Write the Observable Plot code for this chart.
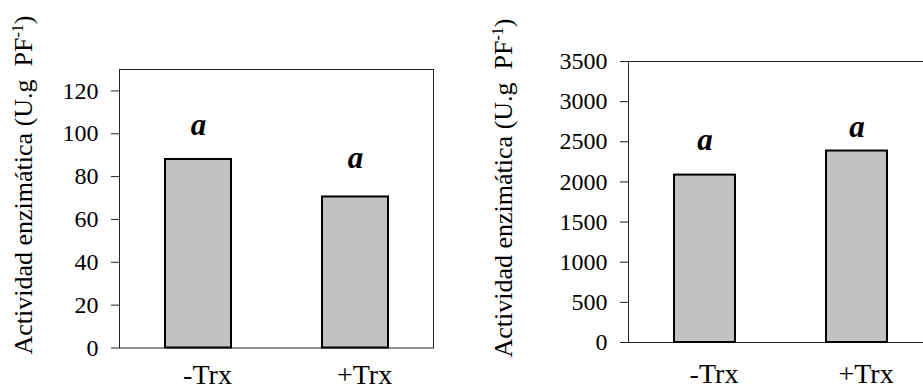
<!DOCTYPE html>
<html><head><meta charset="utf-8">
<script src="https://cdn.jsdelivr.net/npm/d3@7"></script>
<script src="https://cdn.jsdelivr.net/npm/@observablehq/plot@0.6"></script>
<style>
html,body{margin:0;padding:0;background:#fff;}
#wrap{display:flex;width:923px;height:390px;overflow:hidden;}
#wrap svg{flex:none;overflow:hidden;}
</style></head><body><div id="wrap"></div>
<script>
// ---- data ----
const categories = ["-Trx", "+Trx"];
const leftValues = [88, 70.5];
const rightValues = [2085, 2385];
const sigLetters = ["a", "a"];
const leftLetterY = [99.5, 84];
const rightLetterY = [2400, 2560];
const leftTicks = [0, 20, 40, 60, 80, 100, 120];
const rightTicks = [0, 500, 1000, 1500, 2000, 2500, 3000, 3500];
const yTitleMain = "Actividad enzimática (U.g  PF";
const yTitleSup = "-1";
const yTitleEnd = ")";

const FONT = '"Liberation Serif", "Times New Roman", Times, serif';

function chart({values, letterY, ticks, yMax, width, height, mL, mR, mT, mB, titleX, titleY, xPad, bandRatio}) {
  const data = categories.map((c, i) => ({cat: c, v: values[i], ly: letterY[i], lab: sigLetters[i]}));
  const pInner = 1 - bandRatio;
  const svg = Plot.plot({
    width, height,
    marginLeft: mL, marginRight: mR, marginTop: mT, marginBottom: mB,
    style: {fontFamily: FONT, color: "#000", background: "#fff", overflow: "hidden"},
    x: {domain: categories, paddingInner: pInner, paddingOuter: pInner / 2, axis: null},
    y: {domain: [0, yMax], axis: null},
    marks: [
      Plot.frame({stroke: "#222", strokeWidth: 1}),
      Plot.barY(data, {x: "cat", y: "v", fill: "#c2c2c2", stroke: "#000", strokeWidth: 2}),
      Plot.text(data, {x: "cat", y: "ly", text: "lab", lineAnchor: "bottom", fontSize: 31, fontStyle: "italic", fontWeight: "bold", fontFamily: FONT}),
      Plot.axisY({ticks, tickSize: 8, tickPadding: 13, fontSize: 24, tickFormat: d3.format("d"), label: null, stroke: "#222", fontFamily: FONT}),
      Plot.axisX({tickSize: 0, tickPadding: xPad, fontSize: 28, dx: 9, label: null, fontFamily: FONT})
    ]
  });
  const t = d3.select(svg).append("text")
    .attr("transform", `translate(${titleX},${titleY}) rotate(-90)`)
    .attr("text-anchor", "middle")
    .style("font-family", FONT)
    .attr("font-size", 26)
    .attr("fill", "#000");
  t.append("tspan").text(yTitleMain);
  t.append("tspan").attr("font-size", 16).attr("dy", -9).text(yTitleSup);
  t.append("tspan").attr("dy", 9).text(yTitleEnd);
  return svg;
}

const wrap = document.getElementById("wrap");
wrap.appendChild(chart({
  values: leftValues, letterY: leftLetterY, ticks: leftTicks, yMax: 130,
  width: 440, height: 390, mL: 119, mR: 7, mT: 69, mB: 42.5,
  titleX: 32, titleY: 185, xPad: 16, bandRatio: 0.42
}));
wrap.appendChild(chart({
  values: rightValues, letterY: rightLetterY, ticks: rightTicks, yMax: 3500,
  width: 492, height: 390, mL: 188, mR: 0, mT: 61, mB: 48,
  titleX: 72, titleY: 188, xPad: 21, bandRatio: 0.40
}));
</script></body></html>
